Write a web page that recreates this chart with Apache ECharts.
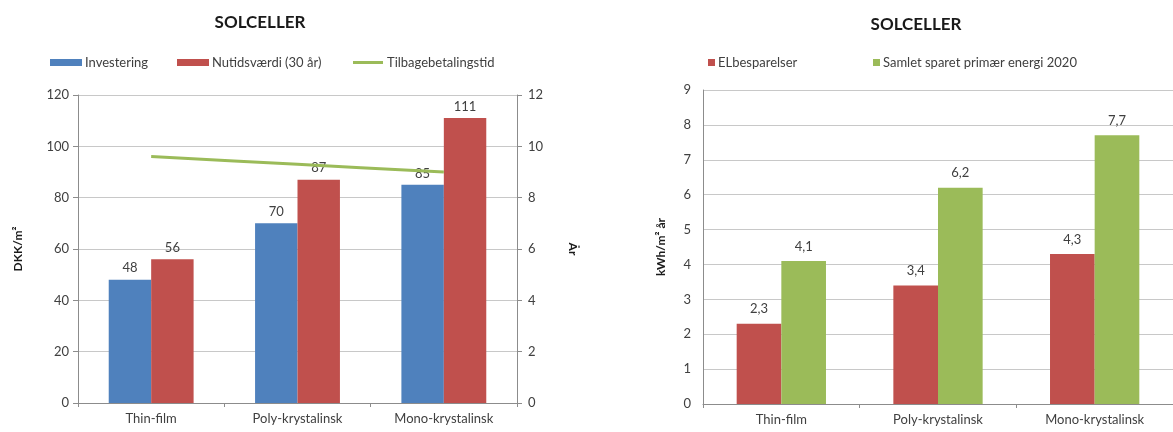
<!DOCTYPE html>
<html>
<head>
<meta charset="utf-8">
<title>Solceller</title>
<script src="https://cdn.jsdelivr.net/npm/echarts@6/dist/echarts.min.js"></script>
<style>
  html, body { margin: 0; padding: 0; background: #ffffff; }
  #chart { width: 1173px; height: 432px; }
</style>
</head>
<body>
<div id="chart"></div>
<script>
// Solar cell technologies
const categories = ['Thin-film', 'Poly-krystalinsk', 'Mono-krystalinsk'];

// Economics (DKK/m²) and payback time (years)
const investering = [48, 70, 85];
const nutidsvaerdi = [56, 87, 111];
const tilbagebetalingstid = [9.6, 9.3, 9.0];

// Energy savings (kWh/m² per year)
const elbesparelser = [2.3, 3.4, 4.3];
const samletSparet = [4.1, 6.2, 7.7];

const FONT = 'Lato, "Open Sans", sans-serif';
const TXT = '#404040';
const AXIS = '#8c8c8c';
const GRIDLINE = '#c8c8c8';
const BLUE = '#4f81bd';
const RED = '#c0504d';
const GREEN = '#9bbb59';

const commaFmt = p => String(p.value).replace('.', ',');

const labelTop = {
  show: true, position: 'top', distance: 5,
  color: TXT, fontFamily: FONT, fontSize: 13
};

const legendText = { color: TXT, fontFamily: FONT, fontSize: 13, padding: [0, 0, 0, -2] };

function catAxis(gridIndex) {
  return {
    type: 'category', gridIndex, data: categories,
    axisLine: { lineStyle: { color: AXIS } },
    axisTick: { show: true, length: 4, lineStyle: { color: AXIS } },
    axisLabel: { color: TXT, fontFamily: FONT, fontSize: 13, margin: 9 }
  };
}

function valAxis(gridIndex, opts) {
  return Object.assign({
    type: 'value', gridIndex,
    axisLine: { show: true, lineStyle: { color: AXIS } },
    axisTick: { show: true, length: 5, lineStyle: { color: AXIS } },
    axisLabel: { color: TXT, fontFamily: FONT, fontSize: 13 },
    splitLine: { show: true, lineStyle: { color: GRIDLINE } },
    nameLocation: 'middle', nameRotate: 90,
    nameTextStyle: { color: '#1a1a1a', fontFamily: FONT, fontSize: 12, fontWeight: 'bold' }
  }, opts);
}

const chart = echarts.init(document.getElementById('chart'), null, { renderer: 'canvas' });

chart.setOption({
  animation: false,
  backgroundColor: '#ffffff',
  title: [
    { text: 'SOLCELLER', left: 255, top: 9, textAlign: 'center',
      textStyle: { fontFamily: FONT, fontSize: 17, fontWeight: 'bold', color: '#1a1a1a' } },
    { text: 'SOLCELLER', left: 911, top: 11, textAlign: 'center',
      textStyle: { fontFamily: FONT, fontSize: 17, fontWeight: 'bold', color: '#1a1a1a' } }
  ],
  legend: [
    { data: ['Investering'], left: 45, top: 51, itemWidth: 32, itemHeight: 7, icon: 'rect',
      textStyle: legendText },
    { data: ['Nutidsværdi (30 år)'], left: 172, top: 51, itemWidth: 32, itemHeight: 7, icon: 'rect',
      textStyle: legendText },
    { data: [{ name: 'Tilbagebetalingstid', icon: 'path://M0,0H30V3H0Z' }],
      left: 348, top: 51, itemWidth: 32, itemHeight: 3,
      itemStyle: { color: GREEN }, textStyle: legendText },
    { data: ['ELbesparelser'], left: 703, top: 51, itemWidth: 7, itemHeight: 7, icon: 'rect',
      textStyle: legendText },
    { data: ['Samlet sparet primær energi 2020'], left: 868, top: 51, itemWidth: 7, itemHeight: 7, icon: 'rect',
      textStyle: legendText }
  ],
  grid: [
    { left: 78, right: 656, top: 95, bottom: 29 },
    { left: 703, right: -3, top: 90, bottom: 28 }
  ],
  xAxis: [catAxis(0), catAxis(1)],
  yAxis: [
    valAxis(0, { min: 0, max: 120, interval: 20, name: 'DKK/m²', nameGap: 54,
      axisLabel: { color: TXT, fontFamily: FONT, fontSize: 13, margin: 9 } }),
    valAxis(0, { min: 0, max: 12, interval: 2, position: 'right', name: 'År', nameGap: 50,
      nameRotate: -90, splitLine: { show: false },
      axisLabel: { color: TXT, fontFamily: FONT, fontSize: 13, margin: 11 } }),
    valAxis(1, { min: 0, max: 9, interval: 1, name: 'kWh/m² år', nameGap: 36,
      axisTick: { show: false },
      axisLabel: { color: TXT, fontFamily: FONT, fontSize: 13, margin: 12 } })
  ],
  series: [
    { name: 'Investering', type: 'bar', xAxisIndex: 0, yAxisIndex: 0,
      data: investering, barGap: '0%', barCategoryGap: '42%',
      itemStyle: { color: BLUE }, label: labelTop },
    { name: 'Nutidsværdi (30 år)', type: 'bar', xAxisIndex: 0, yAxisIndex: 0,
      data: nutidsvaerdi, barGap: '0%', barCategoryGap: '42%',
      itemStyle: { color: RED }, label: labelTop },
    { name: 'Tilbagebetalingstid', type: 'line', xAxisIndex: 0, yAxisIndex: 1,
      data: tilbagebetalingstid, smooth: 0.3, symbol: 'none', z: 5,
      lineStyle: { color: GREEN, width: 3 }, itemStyle: { color: GREEN } },
    { name: 'ELbesparelser', type: 'bar', xAxisIndex: 1, yAxisIndex: 2,
      data: elbesparelser, barGap: '0%', barCategoryGap: '43%',
      itemStyle: { color: RED }, label: Object.assign({}, labelTop, { formatter: commaFmt, distance: 8 }) },
    { name: 'Samlet sparet primær energi 2020', type: 'bar', xAxisIndex: 1, yAxisIndex: 2,
      data: samletSparet, barGap: '0%', barCategoryGap: '43%',
      itemStyle: { color: GREEN }, label: Object.assign({}, labelTop, { formatter: commaFmt, distance: 8 }) }
  ]
});
</script>
</body>
</html>
